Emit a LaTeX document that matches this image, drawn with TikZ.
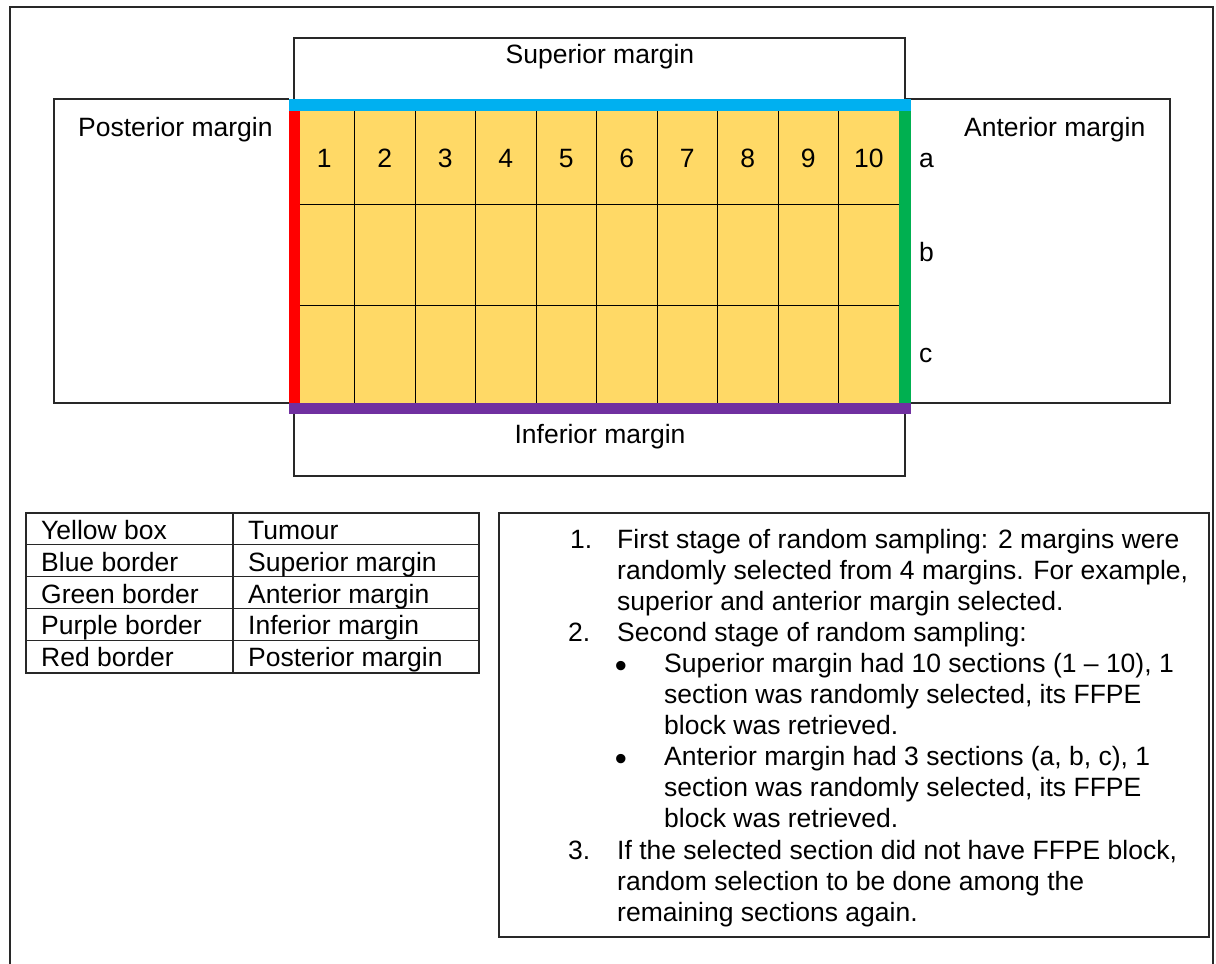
\documentclass[tikz,border=0pt]{standalone}
\usepackage{fontspec}
\setmainfont{Liberation Sans}
\definecolor{tumour}{RGB}{255,217,102}
\definecolor{supblue}{RGB}{0,176,240}
\definecolor{antgreen}{RGB}{0,176,80}
\definecolor{infpurple}{RGB}{112,48,160}
\definecolor{postred}{RGB}{255,0,0}
\definecolor{rule}{RGB}{40,40,40}

\begin{document}
\begin{tikzpicture}[x=1pt,y=-1pt,
  txt/.style={inner sep=0pt, anchor=base west, font=\fontsize{26.5}{31.1}\selectfont},
  ctxt/.style={txt, anchor=base},
  boxline/.style={draw=rule, line width=1.4pt},
  tabline/.style={draw=rule, line width=1.1pt},
  gridline/.style={draw=black, line width=0.8pt}]

\useasboundingbox (0,0) rectangle (1216,964);
\fill[white] (0,0) rectangle (1216,964);

% page frame
\draw[boxline] (10,964) -- (10,7) -- (1213,7) -- (1213,964);

% surrounding margin boxes
\draw[boxline] (294,99) -- (294,38) -- (905,38) -- (905,99);
\draw[boxline] (289,99) -- (54,99) -- (54,403) -- (289,403);
\draw[boxline] (905,99) -- (1170,99) -- (1170,403) -- (911,403);
\draw[boxline] (294,414) -- (294,476) -- (905,476) -- (905,414);

% tumour with its 10 x 3 sections
\fill[tumour] (294,105) rectangle (899,403);
\foreach \i in {1,...,9}
  \draw[gridline] ({294+60.5*\i},105) -- ({294+60.5*\i},403);
\draw[gridline] (294,204) -- (899,204);
\draw[gridline] (294,305) -- (899,305);

% coloured margin borders
\fill[supblue]   (289,99)  rectangle (911,111);
\fill[postred]   (289,111) rectangle (300,403);
\fill[antgreen]  (899,111) rectangle (911,403);
\fill[infpurple] (289,403) rectangle (911,414);

% margin labels
\node[ctxt] (sup)  at (600,63)  {Superior margin};
\node[txt]  (post) at (78,136)  {Posterior margin};
\node[txt]  (ant)  at (964,136) {Anterior margin};
\node[ctxt] (inf)  at (600,443) {Inferior margin};

% section numbers and rows
\foreach \i in {1,...,10}
  \node[ctxt] (col\i) at ({294+60.5*(\i-0.5)},167) {\i};
\node[txt] (rowa) at (919,167) {a};
\node[txt] (rowb) at (919,261) {b};
\node[txt] (rowc) at (919,362) {c};

% colour key table
\draw[tabline] (26,513) rectangle (479,673);
\foreach \k in {1,...,4}
  \draw[tabline] (26,{513+31.8*\k}) -- (479,{513+31.8*\k});
\draw[tabline] (233,513) -- (233,673);
\node[txt] (k1a) at (41,539)   {Yellow box};
\node[txt] (k1b) at (248,539)  {Tumour};
\node[txt] (k2a) at (41,571)   {Blue border};
\node[txt] (k2b) at (248,571)  {Superior margin};
\node[txt] (k3a) at (41,603)   {Green border};
\node[txt] (k3b) at (248,603)  {Anterior margin};
\node[txt] (k4a) at (41,634)   {Purple border};
\node[txt] (k4b) at (248,634)  {Inferior margin};
\node[txt] (k5a) at (41,666)   {Red border};
\node[txt] (k5b) at (248,666)  {Posterior margin};

% sampling procedure
\draw[boxline] (499,513) rectangle (1209,937);
\node[txt] (s1)  at (570,548)   {1.};
\node[txt] (s1a) at (617,548)   {First stage of random sampling: 2 margins were};
\node[txt] (s1b) at (617,579.1) {randomly selected from 4 margins. For example,};
\node[txt] (s1c) at (617,610.2) {superior and anterior margin selected.};
\node[txt] (s2)  at (568,641.3) {2.};
\node[txt] (s2a) at (617,641.3) {Second stage of random sampling:};
\node[ctxt] (b1) at (621,677) {\scalebox{1.3}{•}};
\node[txt] (b1a) at (664,672.4) {Superior margin had 10 sections (1 – 10), 1};
\node[txt] (b1b) at (664,703.5) {section was randomly selected, its FFPE};
\node[txt] (b1c) at (664,734.6) {block was retrieved.};
\node[ctxt] (b2) at (621,770.3) {\scalebox{1.3}{•}};
\node[txt] (b2a) at (664,765.7) {Anterior margin had 3 sections (a, b, c), 1};
\node[txt] (b2b) at (664,796.8) {section was randomly selected, its FFPE};
\node[txt] (b2c) at (664,827.9) {block was retrieved.};
\node[txt] (s3)  at (568,859)   {3.};
\node[txt] (s3a) at (617,859)   {If the selected section did not have FFPE block,};
\node[txt] (s3b) at (617,890.1) {random selection to be done among the};
\node[txt] (s3c) at (617,921.2) {remaining sections again.};
\end{tikzpicture}
\end{document}
